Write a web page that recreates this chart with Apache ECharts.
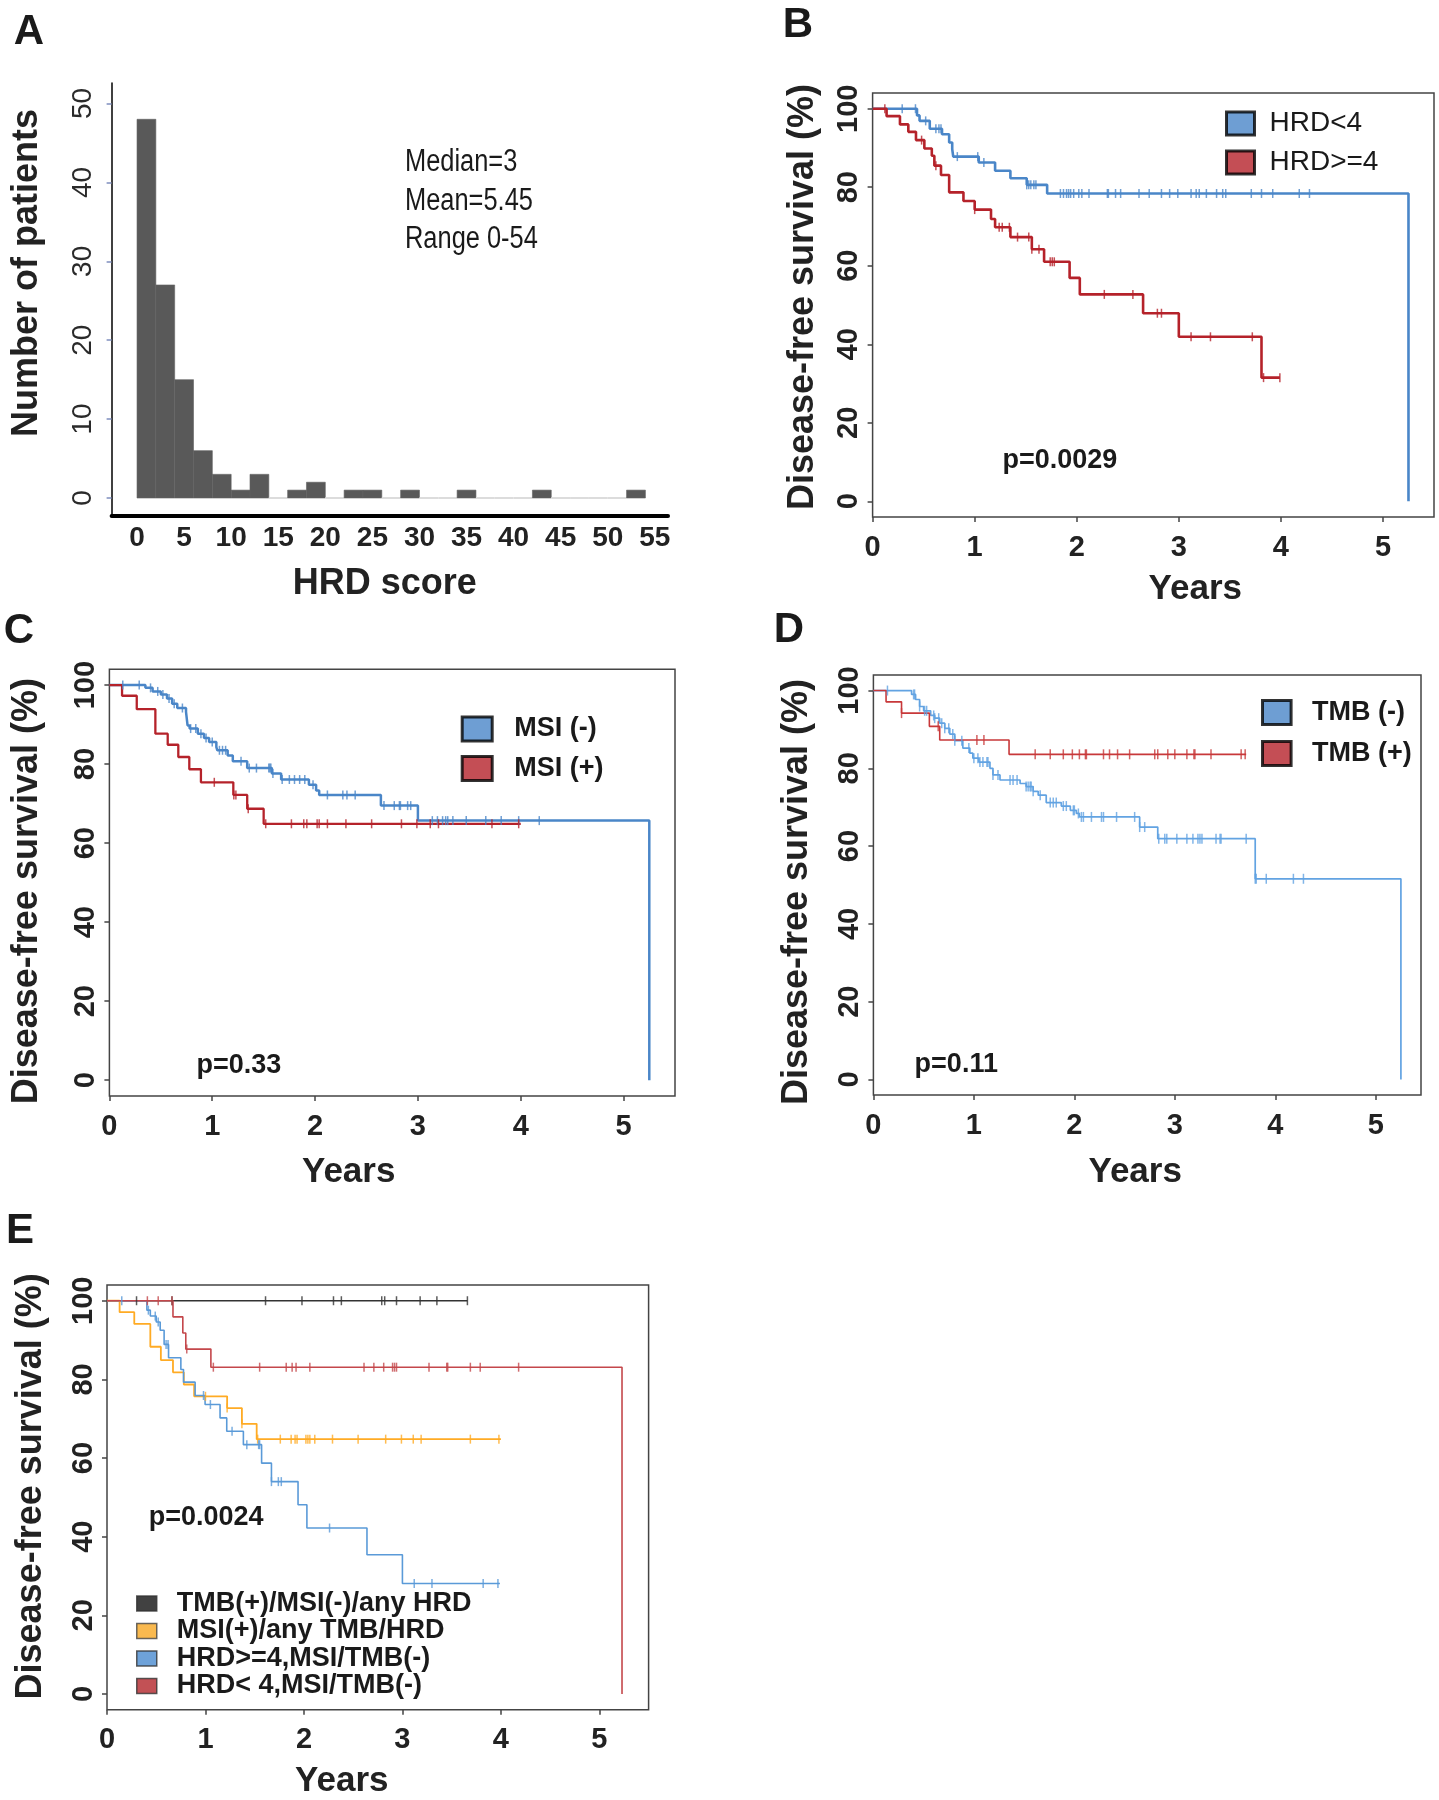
<!DOCTYPE html>
<html><head><meta charset="utf-8">
<script src="https://cdn.jsdelivr.net/npm/echarts@6/dist/echarts.min.js"></script>
<style>html,body{margin:0;padding:0;background:#fff}#chart{width:1439px;height:1800px}</style>
</head><body><div id="chart"></div>
<script>
// ---------- Panel A: HRD score histogram ----------
const hrdBinStart = [0,2,4,6,8,10,12,14,16,18,20,22,24,26,28,30,32,34,36,38,40,42,44,46,48,50,52];
const hrdBinCount = [48,27,15,6,3,1,3,0,1,2,0,1,1,0,1,0,0,1,0,0,0,1,0,0,0,0,1];
const hrdBinWidth = 2;
const hrdTicks = [0,5,10,15,20,25,30,35,40,45,50,55];
const countTicks = [0,10,20,30,40,50];
const hrdStats = ['Median=3','Mean=5.45','Range 0-54'];

// ---------- shared ticks ----------
const yearTicks = [0,1,2,3,4,5];
const survTicks = [0,20,40,60,80,100];

// ---------- Panel B ----------
const bLowT = [0,0.435,0.46,0.56,0.68,0.75,0.78,0.79,1.04,1.20,1.35,1.51,1.71,5.25];
const bLowS = [100,98.3,96.9,94.9,93.5,91.4,89.7,87.8,86.3,84.2,82.3,80.6,78.4,0];
const bLowC = [0.29,0.42,0.52,0.62,0.65,0.67,0.83,1.03,1.09,1.51,1.53,1.55,1.58,1.60,1.84,1.87,1.90,1.92,1.94,1.97,2.02,2.05,2.12,2.30,2.31,2.38,2.43,2.61,2.71,2.83,2.91,2.99,3.12,3.17,3.20,3.27,3.37,3.43,3.46,3.71,3.81,3.92,4.18,4.28];
const bHighT = [0,0.137,0.268,0.35,0.425,0.507,0.58,0.605,0.67,0.75,0.89,1.0,1.16,1.20,1.35,1.56,1.68,1.93,2.03,2.65,3.0,3.81,3.99];
const bHighS = [100,98.1,96,94.1,92.0,89.85,88.0,85.5,83.1,78.7,76.5,74.3,71.9,69.8,67.3,64.2,61.0,56.9,52.7,47.9,41.9,31.5,31.5];
const bHighC = [0.12,0.48,0.62,1.0,1.24,1.27,1.34,1.42,1.53,1.56,1.63,1.74,1.76,1.78,2.27,2.55,2.79,2.83,3.12,3.31,3.72,3.83,3.99];

// ---------- Panel C ----------
const cNegT = [0,0.35,0.42,0.50,0.56,0.61,0.66,0.745,0.76,0.78,0.86,0.92,0.97,1.04,1.05,1.15,1.20,1.34,1.58,1.67,1.94,2.01,2.04,2.64,3.0,5.25];
const cNegS = [100,99.3,98.4,97.6,96.6,95.3,94.2,93.2,89.8,89.0,87.7,86.6,85.6,84.3,83.5,82.2,80.7,79.0,77.6,76.1,74.8,73.3,72.2,69.5,65.7,0];
const cNegC = [0.13,0.29,0.40,0.47,0.52,0.58,0.63,0.71,0.79,0.84,0.89,0.94,1.0,1.07,1.10,1.13,1.28,1.36,1.43,1.55,1.56,1.57,1.59,1.68,1.75,1.80,1.85,1.90,1.98,2.12,2.27,2.31,2.39,2.67,2.77,2.82,2.83,2.90,2.93,3.14,3.19,3.24,3.27,3.29,3.34,3.47,3.66,3.81,3.98,4.18];
const cPosT = [0,0.123,0.266,0.447,0.567,0.67,0.777,0.89,1.205,1.34,1.5,4.0];
const cPosS = [100,97.3,93.9,87.7,84.9,81.8,78.7,75.4,72.2,68.7,64.9,64.9];
const cPosC = [1.02,1.21,1.23,1.35,1.52,1.77,1.89,1.92,2.02,2.04,2.12,2.30,2.55,2.84,2.99,3.12,3.20,3.72,3.98];

// ---------- Panel D ----------
const dNegT = [0,0.38,0.42,0.46,0.50,0.57,0.61,0.66,0.71,0.76,0.81,0.89,0.96,0.99,1.05,1.16,1.19,1.26,1.46,1.52,1.59,1.64,1.72,1.87,1.96,2.02,2.05,2.65,2.83,3.80,5.25];
const dNegS = [100,99,97.7,95.9,94.8,93.6,92.9,91.6,90.3,88.8,87.1,85.2,83.9,82.6,81.6,80.0,78.3,77.0,76.1,75.3,74.1,73.1,71.2,70.3,69.2,68.4,67.5,64.9,61.9,51.6,0];
const dNegC = [0.14,0.40,0.41,0.46,0.51,0.53,0.60,0.61,0.65,0.68,0.71,0.75,0.79,0.81,0.88,0.95,1.0,1.04,1.06,1.09,1.13,1.14,1.19,1.24,1.36,1.39,1.43,1.52,1.54,1.56,1.57,1.59,1.66,1.76,1.79,1.82,1.89,1.92,1.99,2.0,2.04,2.07,2.09,2.17,2.27,2.29,2.42,2.60,2.65,2.70,2.84,2.90,2.92,3.02,3.12,3.18,3.23,3.25,3.27,3.41,3.45,3.46,3.71,3.80,3.81,3.91,4.18,4.28];
const dPosT = [0,0.126,0.28,0.557,0.66,1.35,3.71];
const dPosS = [100,97.1,94.2,90.8,87.3,83.6,83.6];
const dPosC = [0.28,0.645,1.03,1.10,1.61,1.76,1.89,1.98,2.05,2.11,2.12,2.29,2.35,2.43,2.55,2.80,2.83,2.93,3.0,3.12,3.19,3.20,3.36,3.66,3.70];

// ---------- Panel E ----------
const eTmbT = [0,3.66];
const eTmbS = [100,100];
const eTmbC = [0.30,0.66,1.61,1.98,2.30,2.38,2.79,2.82,2.94,3.18,3.35,3.66];
const eMsiT = [0,0.128,0.277,0.44,0.547,0.67,0.78,0.885,1.22,1.37,1.52,4.0];
const eMsiS = [100,97.1,94.1,88.3,84.9,81.8,78.7,75.7,72.7,68.7,64.8,64.8];
const eMsiC = [1.0,1.22,1.37,1.53,1.76,1.87,1.91,1.93,2.02,2.04,2.06,2.11,2.29,2.55,2.83,2.99,3.11,3.19,3.69,3.98];
const eHiT = [0,0.405,0.44,0.50,0.54,0.58,0.625,0.75,0.777,0.895,0.996,1.148,1.216,1.385,1.57,1.67,1.94,2.03,2.64,3.0,3.99];
const eHiS = [100,97.6,96.1,94.6,92.5,88.9,85.5,82.5,79.3,75.9,73.6,70.2,66.8,63.4,58.7,54.0,48.1,42.2,35.4,28.1,28.1];
const eHiC = [0.15,0.42,0.49,0.52,0.60,0.62,0.98,1.05,1.27,1.42,1.54,1.55,1.67,1.74,1.77,2.26,3.12,3.30,3.82,3.97];
const eLoT = [0,0.67,0.77,0.80,1.055,5.23];
const eLoS = [100,95.9,91.8,87.7,83.1,0];
const eLoC = [0.41,0.52,0.66,0.81,1.08,1.55,1.82,1.88,1.92,2.06,2.61,2.71,2.81,2.90,2.92,2.94,3.27,3.45,3.46,3.69,3.79,4.18];

// ---------- styling ----------
const FONT = '"Liberation Sans", Arial, Helvetica, sans-serif';
const BLUE = '#4a86c8', RED = '#b5222a';
const TICK_FS = 29;

function kmAt(T, S, t) {
  let v = S[0];
  for (let i = 0; i < T.length; i++) { if (T[i] <= t + 1e-9) v = S[i]; else break; }
  return v;
}
function kmSeries(name, T, S, C, color, width, gi, tick) {
  return [
    { type: 'scatter', name, xAxisIndex: gi, yAxisIndex: gi, silent: true, z: 4,
      symbol: 'rect', symbolSize: tick || [1.5, 9], itemStyle: { color },
      data: C.map(t => [t, kmAt(T, S, t)]) },
    { type: 'line', name, xAxisIndex: gi, yAxisIndex: gi, silent: true, z: 3,
      step: 'end', symbol: 'none', showSymbol: false, lineStyle: { color, width },
      data: T.map((t, i) => [t, S[i]]) }
  ];
}

function kmXAxis(gi, max, nameGap, pad) {
  return { type: 'value', gridIndex: gi, min: 0, max: max,
    axisLine: { show: false, onZero: false }, splitLine: { show: false },
    axisTick: { show: true, length: 5, lineStyle: { color: '#444', width: 1.5 }, customValues: yearTicks },
    axisLabel: { customValues: yearTicks, margin: 16, fontSize: TICK_FS, fontWeight: 'bold', color: '#222', fontFamily: FONT },
    name: 'Years', nameLocation: 'middle', nameGap: nameGap,
    nameTextStyle: { fontSize: 35, fontWeight: 'bold', color: '#222', fontFamily: FONT, padding: pad } };
}
function kmYAxis(gi, nameGap, pad) {
  return { type: 'value', gridIndex: gi, min: -4, max: 104,
    axisLine: { show: false, onZero: false }, splitLine: { show: false },
    axisTick: { show: true, length: 5, lineStyle: { color: '#444', width: 1.5 }, customValues: survTicks },
    axisLabel: { customValues: survTicks, rotate: 90, margin: 9, fontSize: TICK_FS, fontWeight: 'bold', color: '#222', fontFamily: FONT },
    name: 'Disease-free survival (%)', nameLocation: 'middle', nameRotate: 90, nameGap: nameGap,
    nameTextStyle: { fontSize: 36, fontWeight: 'bold', color: '#222', fontFamily: FONT, padding: pad } };
}
const gridBox = { show: true, borderColor: '#444', borderWidth: 1.5, backgroundColor: 'transparent', outerBoundsMode: 'none' };

function legendBox(name, color, border, bw) {
  return { name, icon: 'rect', itemStyle: { color, borderColor: border, borderWidth: bw } };
}

const series = [];
// Panel A histogram
series.push({
  type: 'custom', xAxisIndex: 0, yAxisIndex: 0, silent: true,
  data: hrdBinStart.map((s, i) => [s, s + hrdBinWidth, hrdBinCount[i]]),
  encode: { x: [0, 1], y: 2 },
  renderItem: function (params, api) {
    const s = api.value(0), e = api.value(1), c = api.value(2);
    const p0 = api.coord([s, c]);
    const p1 = api.coord([e, 0]);
    if (c === 0) {
      return { type: 'line', shape: { x1: p0[0], y1: p1[1], x2: p1[0], y2: p1[1] },
        style: { stroke: '#dcdcdc', lineWidth: 2 } };
    }
    return { type: 'rect', shape: { x: p0[0], y: p0[1], width: p1[0] - p0[0], height: p1[1] - p0[1] },
      style: { fill: '#595959', stroke: '#626262', lineWidth: 0.6 } };
  }
});
series.push(...kmSeries('HRD<4', bLowT, bLowS, bLowC, BLUE, 2.6, 1));
series.push(...kmSeries('HRD>=4', bHighT, bHighS, bHighC, RED, 2.6, 1));
series.push(...kmSeries('MSI (-)', cNegT, cNegS, cNegC, BLUE, 2.5, 2));
series.push(...kmSeries('MSI (+)', cPosT, cPosS, cPosC, RED, 2.3, 2));
series.push(...kmSeries('TMB (-)', dNegT, dNegS, dNegC, '#62a3e2', 1.7, 3, [1.5, 10]));
series.push(...kmSeries('TMB (+)', dPosT, dPosS, dPosC, '#c8383a', 1.6, 3, [1.5, 10]));
series.push(...kmSeries('TMB(+)/MSI(-)/any HRD', eTmbT, eTmbS, eTmbC, '#333333', 1.5, 4));
series.push(...kmSeries('MSI(+)/any TMB/HRD', eMsiT, eMsiS, eMsiC, '#ffab24', 1.8, 4));
series.push(...kmSeries('HRD>=4,MSI/TMB(-)', eHiT, eHiS, eHiC, '#5a9ad8', 1.6, 4));
series.push(...kmSeries('HRD< 4,MSI/TMB(-)', eLoT, eLoS, eLoC, '#c4474b', 1.6, 4));

function txt(text, x, y, size, opts, extra) {
  return Object.assign({ type: 'text', x, y, silent: true,
    style: Object.assign({ text, fontSize: size, fontWeight: 'bold', fontFamily: FONT, fill: '#1a1a1a',
      textAlign: 'left', textVerticalAlign: 'middle' }, opts || {}) }, extra || {});
}
const narrowText = { fontWeight: 'normal', fill: '#1a1a1a' };
const narrowScale = { scaleX: 0.82 };

const option = {
  animation: false,
  backgroundColor: '#ffffff',
  grid: [
    { left: 111.6, top: 83, width: 556.4, height: 433, show: false, outerBoundsMode: 'none' },
    Object.assign({ left: 872.6, top: 93, width: 561.4, height: 424 }, gridBox),
    Object.assign({ left: 109.4, top: 669.3, width: 565.6, height: 426.7 }, gridBox),
    Object.assign({ left: 873.4, top: 675, width: 547.6, height: 420 }, gridBox),
    Object.assign({ left: 107, top: 1285, width: 541.6, height: 424.7 }, gridBox)
  ],
  xAxis: [
    { type: 'value', gridIndex: 0, min: -2.7, max: 56.4,
      axisLine: { show: true, onZero: false, lineStyle: { color: '#000', width: 4 } }, splitLine: { show: false },
      axisTick: { show: false },
      axisLabel: { customValues: hrdTicks, margin: 8, fontSize: 28, fontWeight: 'bold', color: '#222', fontFamily: FONT },
      name: 'HRD score', nameLocation: 'middle', nameGap: 50,
      nameTextStyle: { fontSize: 36, fontWeight: 'bold', color: '#222', fontFamily: FONT, padding: [0, 10, 0, 0] } },
    kmXAxis(1, 5.5, 55, [0, 0, 0, 84]),
    kmXAxis(2, 5.5, 59, [0, 87, 0, 0]),
    kmXAxis(3, 5.45, 60, [0, 24, 0, 0]),
    kmXAxis(4, 5.5, 54, [0, 72, 0, 0])
  ],
  yAxis: [
    { type: 'value', gridIndex: 0, min: -2.28, max: 52.6,
      axisLine: { show: true, onZero: false, lineStyle: { color: '#000', width: 1.5 } }, splitLine: { show: false },
      axisTick: { show: true, length: 5, lineStyle: { color: '#7f8fbf', width: 1.5 }, customValues: countTicks },
      axisLabel: { customValues: countTicks, rotate: 90, margin: 14, fontSize: 28, color: '#2a2a2a', fontFamily: FONT },
      name: 'Number of patients', nameLocation: 'middle', nameRotate: 90, nameGap: 67,
      nameTextStyle: { fontSize: 36, fontWeight: 'bold', color: '#222', fontFamily: FONT, padding: [0, 0, 0, 53] } },
    kmYAxis(1, 52, [0, 0, 0, 16]),
    kmYAxis(2, 64, [0, 17, 0, 0]),
    kmYAxis(3, 58, [0, 14, 0, 0]),
    kmYAxis(4, 58, [0, 0, 0, 22])
  ],
  legend: [
    { left: 1225, top: 109.5, orient: 'vertical', padding: 0, selectedMode: false,
      itemWidth: 28, itemHeight: 23, itemGap: 11,
      textStyle: { fontFamily: FONT, fontSize: 28, color: '#1a1a1a', padding: [0, 0, 0, 10] },
      data: [legendBox('HRD<4', BLUE, '#000', 3), legendBox('HRD>=4', RED, '#000', 3)] },
    { left: 460.7, top: 715.5, orient: 'vertical', padding: 0, selectedMode: false,
      itemWidth: 30, itemHeight: 24, itemGap: 12.4,
      textStyle: { fontFamily: FONT, fontWeight: 'bold', fontSize: 27, color: '#1a1a1a', padding: [0, 0, 0, 17] },
      data: [legendBox('MSI (-)', BLUE, '#000', 3), legendBox('MSI (+)', RED, '#000', 3)] },
    { left: 1261, top: 699, orient: 'vertical', padding: 0, selectedMode: false,
      itemWidth: 28.6, itemHeight: 24, itemGap: 14,
      textStyle: { fontFamily: FONT, fontWeight: 'bold', fontSize: 27, color: '#1a1a1a', padding: [0, 0, 0, 16] },
      data: [legendBox('TMB (-)', BLUE, '#000', 3), legendBox('TMB (+)', RED, '#000', 3)] },
    { left: 136, top: 1590, orient: 'vertical', padding: 0, selectedMode: false,
      itemWidth: 20, itemHeight: 15, itemGap: 0.5,
      textStyle: { fontFamily: FONT, fontWeight: 'bold', fontSize: 27, color: '#1a1a1a', padding: [0, 0, 0, 15] },
      data: [legendBox('TMB(+)/MSI(-)/any HRD', '#111111', '#333', 1.5),
             legendBox('MSI(+)/any TMB/HRD', '#f7a823', '#444', 1.5),
             legendBox('HRD>=4,MSI/TMB(-)', '#4a8bd0', '#333', 1.5),
             legendBox('HRD< 4,MSI/TMB(-)', '#b3262b', '#333', 1.5)] }
  ],
  graphic: [
    txt('A', 29, 32, 42, { textAlign: 'center' }),
    txt('B', 798, 25, 42, { textAlign: 'center' }),
    txt('C', 19, 631, 42, { textAlign: 'center' }),
    txt('D', 789, 630, 42, { textAlign: 'center' }),
    txt('E', 20, 1231, 42, { textAlign: 'center' }),
    txt(hrdStats[0], 405, 162, 31, narrowText, narrowScale),
    txt(hrdStats[1], 405, 201.5, 31, narrowText, narrowScale),
    txt(hrdStats[2], 405, 239.5, 31, narrowText, narrowScale),
    txt('p=0.0029', 1002.5, 460.6, 27),
    txt('p=0.33', 196.4, 1065.4, 27),
    txt('p=0.11', 914.6, 1065, 27),
    txt('p=0.0024', 148.7, 1518, 27)
  ],
  series: series
};

const chart = echarts.init(document.getElementById('chart'), null, { renderer: 'canvas', width: 1439, height: 1800 });
chart.setOption(option);
</script></body></html>
